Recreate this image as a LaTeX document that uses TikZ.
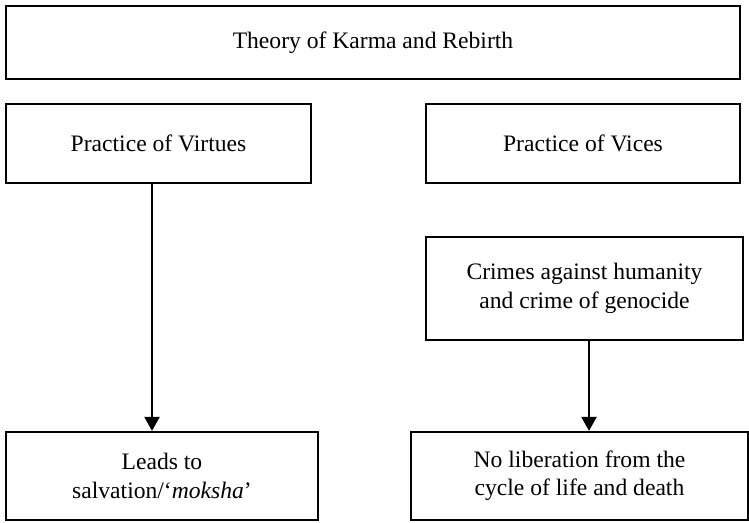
\documentclass[tikz,border=0pt]{standalone}
\usepackage{fontspec}
\setmainfont{Liberation Serif}
\usetikzlibrary{arrows.meta,positioning}
\tikzset{
    x=1pt,y=1pt,
    box/.style={rectangle, draw, line width=2.2pt, align=center, inner sep=0pt,
        font=\fontsize{23.6}{28.3}\selectfont},
    flow/.style={-{Triangle[width=15pt,length=14pt]}, line width=2.2pt}
}

\begin{document}
\begin{tikzpicture}
    \useasboundingbox (0,0) rectangle (749,-522);
    \node[box, minimum width=734pt, minimum height=73pt] (theory) at (373,-42.5) {Theory of Karma and Rebirth};
    \node[box, minimum width=305pt, minimum height=79pt] (virtues) at (158.5,-143.5) {Practice of Virtues};
    \node[box, minimum width=314pt, minimum height=79pt] (vices) at (583,-143.5) {Practice of Vices};
    \node[box, minimum width=317pt, minimum height=103pt] (crimes) at (584.5,-288.5) {Crimes against humanity\\and crime of genocide};
    \node[box, minimum width=312pt, minimum height=88pt] (salvation) at (162,-476) {Leads to\\salvation/‘\textit{moksha}’};
    \node[box, minimum width=337pt, minimum height=88pt] (noliberation) at (579.5,-476) {No liberation from the\\cycle of life and death};

    \draw[flow] ([xshift=-6.5pt]virtues.south) -- ([xshift=-6.5pt]virtues.south |- salvation.north);
    \draw[flow] ([xshift=4.5pt]crimes.south) -- ([xshift=4.5pt]crimes.south |- noliberation.north);
\end{tikzpicture}
\end{document}
